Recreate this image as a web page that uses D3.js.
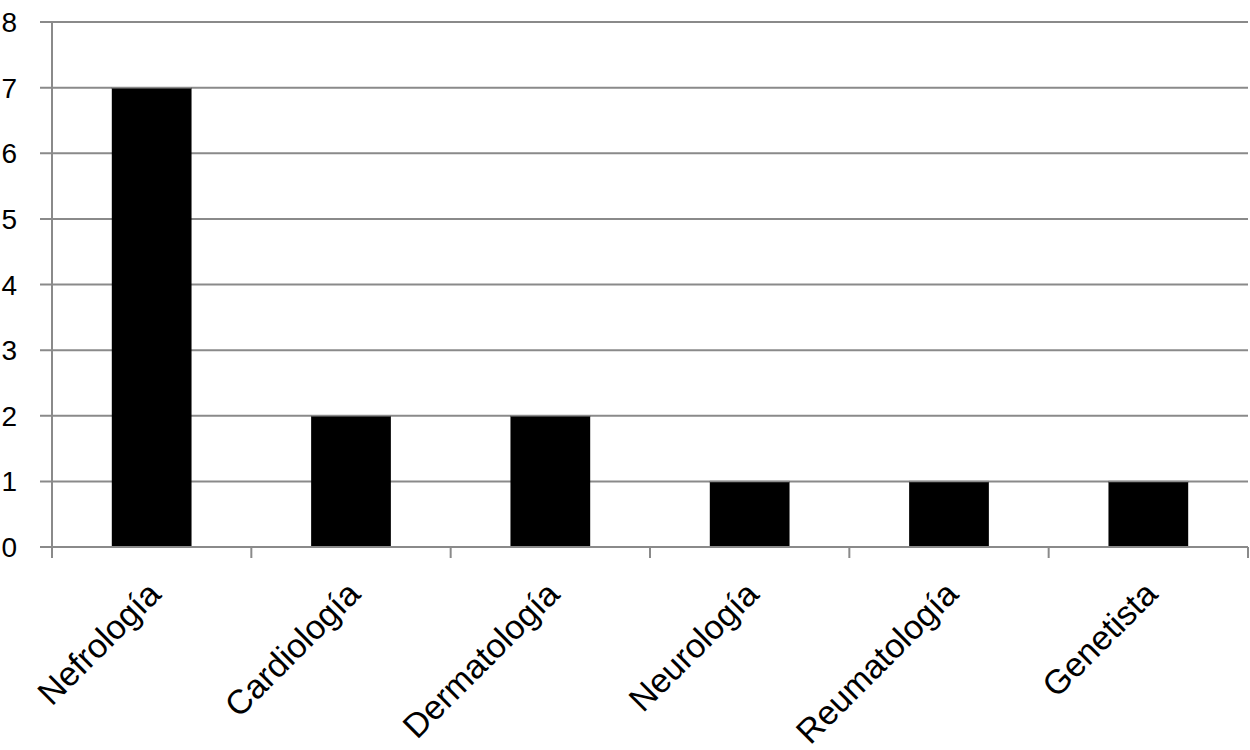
<!DOCTYPE html>
<html><head><meta charset="utf-8">
<script src="https://cdn.jsdelivr.net/npm/d3@7"></script>
<style>body{margin:0;background:#fff}svg{display:block}text{font-family:"Liberation Sans",Arial,Helvetica,sans-serif;fill:#000}</style>
</head><body><svg width="1250" height="750"></svg>
<script>
const categories = ["Nefrología","Cardiología","Dermatología","Neurología","Reumatología","Genetista"];
const values = [7,2,2,1,1,1];
const yTicks = [0,1,2,3,4,5,6,7,8];

(function(){
const svg = d3.select("svg");
const mL = 52, mR = 1248, mT = 22, mB = 547;
const x = d3.scaleBand().domain(categories).range([mL,mR]).padding(0);
const y = d3.scaleLinear().domain([0,8]).range([mB,mT]);
const grid = "#8a8a8a";

svg.append("g").selectAll("line").data(yTicks.filter(d=>d>0)).join("line")
  .attr("x1",mL-12).attr("x2",mR).attr("y1",d=>y(d)).attr("y2",d=>y(d))
  .attr("stroke",grid).attr("stroke-width",2);

svg.append("g").selectAll("rect").data(values).join("rect")
  .attr("x",(d,i)=>x(categories[i])+x.bandwidth()*0.3)
  .attr("width",x.bandwidth()*0.4)
  .attr("y",d=>y(d)).attr("height",d=>y(0)-y(d))
  .attr("fill","#000");
svg.append("g").selectAll("line").data(values).join("line")
  .attr("x1",(d,i)=>x(categories[i])+x.bandwidth()*0.3)
  .attr("x2",(d,i)=>x(categories[i])+x.bandwidth()*0.7)
  .attr("y1",d=>y(d)).attr("y2",d=>y(d))
  .attr("stroke",grid).attr("stroke-width",1.5);

svg.append("line").attr("x1",mL).attr("x2",mL).attr("y1",mT).attr("y2",mB)
  .attr("stroke",grid).attr("stroke-width",2);
svg.append("line").attr("x1",mL-12).attr("x2",mR).attr("y1",mB).attr("y2",mB)
  .attr("stroke",grid).attr("stroke-width",2);
const bounds = categories.map(c=>x(c)).concat([mR]);
svg.append("g").selectAll("line").data(bounds).join("line")
  .attr("x1",d=>d).attr("x2",d=>d).attr("y1",mB).attr("y2",mB+11)
  .attr("stroke",grid).attr("stroke-width",2);

svg.append("g").selectAll("text").data(yTicks).join("text")
  .attr("x",17).attr("y",d=>y(d)).attr("dy","0.36em")
  .attr("text-anchor","end").style("font-size","28px").text(d=>d);

svg.append("g").selectAll("text").data(categories).join("text")
  .attr("transform",d=>`translate(${x(d)+x.bandwidth()/2+11},${596}) rotate(-45)`)
  .attr("text-anchor","end").style("font-size","34px").text(d=>d);
})();
</script></body></html>
